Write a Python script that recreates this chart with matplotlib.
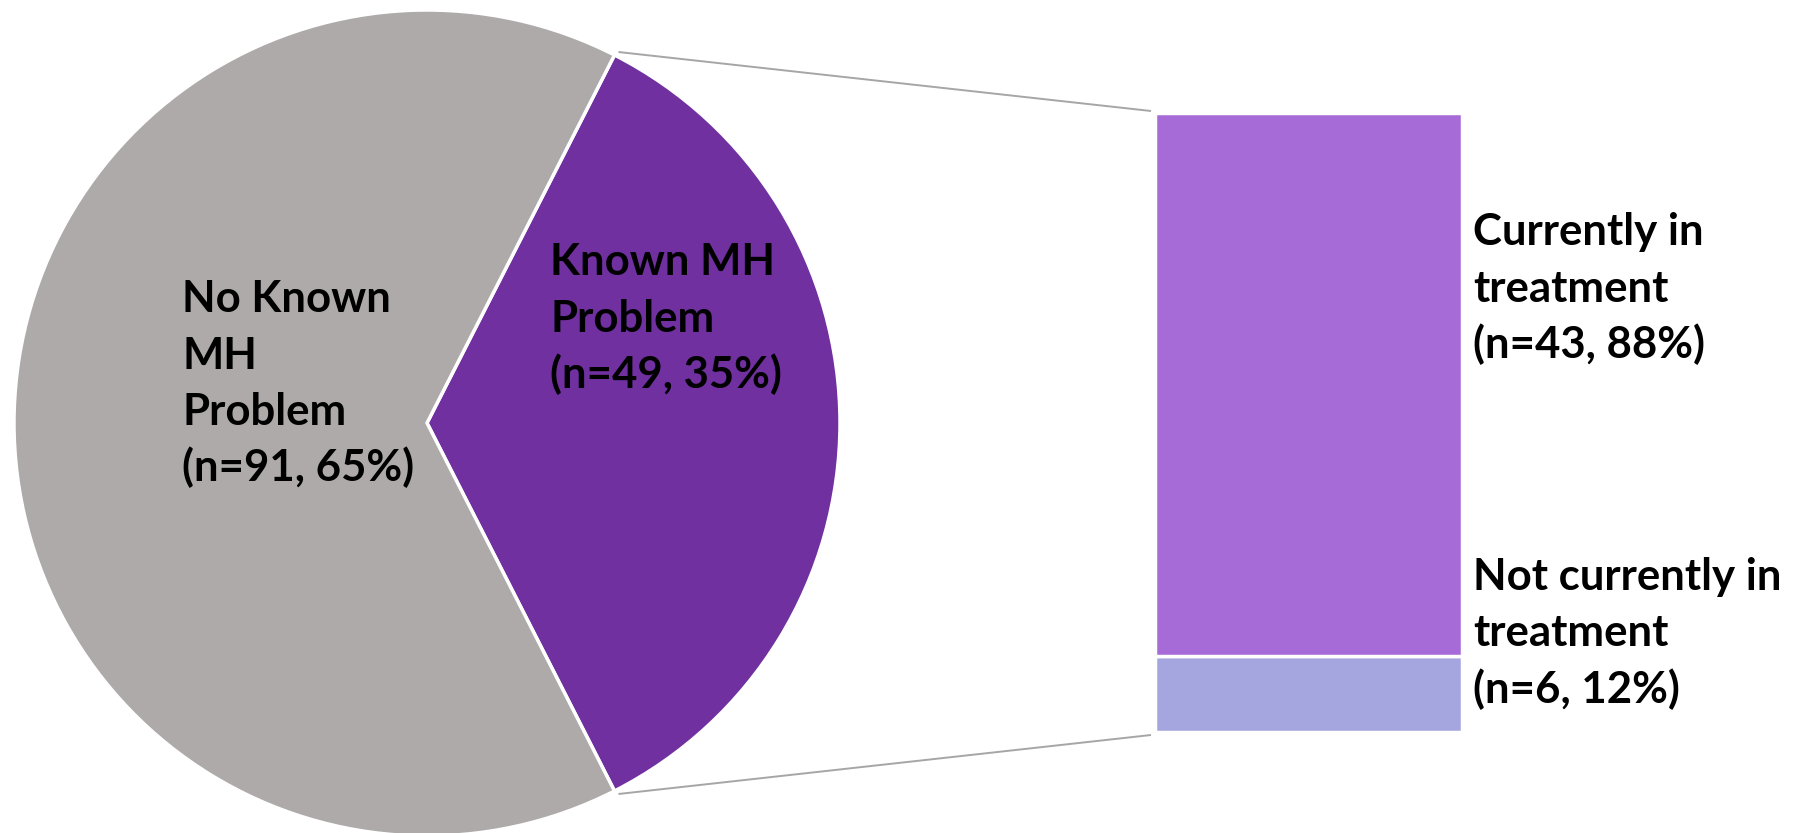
import numpy as np
import matplotlib
matplotlib.use("Agg")
import matplotlib.pyplot as plt

# ---- data ----
pie_labels = ["Known MH\nProblem\n(n=49, 35%)", "No Known\nMH\nProblem\n(n=91, 65%)"]
pie_values = [49, 91]
bar_labels = ["Not currently in\ntreatment\n(n=6, 12%)", "Currently in\ntreatment\n(n=43, 88%)"]
bar_values = [6, 43]

# ---- style ----
W, H = 1793, 833
pie_colors = ["#7030A0", "#AEAAAA"]
bar_colors = ["#A5A5E0", "#A76BD7"]
line_color = "#A6A6A6"
FONT = ["Lato", "DejaVu Sans"]
FS = 31.5

fig = plt.figure(figsize=(W / 100, H / 100), dpi=100)
ax = fig.add_axes([0, 0, 1, 1])

cx, cy, r = 427, H - 423, 413
frac = pie_values[0] / sum(pie_values)
start = -360 * frac / 2
ax.pie(pie_values, colors=pie_colors, startangle=start, counterclock=True,
       center=(cx, cy), radius=r,
       wedgeprops=dict(edgecolor="white", linewidth=2.5))
ax.set_xlim(0, W)
ax.set_ylim(0, H)
ax.set_aspect("auto")
ax.axis("off")

# bar axes
bx0, bx1, by_top, by_bot = 1155, 1462, 113, 732
bax = fig.add_axes([bx0 / W, (H - by_bot) / H, (bx1 - bx0) / W, (by_bot - by_top) / H])
bottom = 0
for v, c in zip(bar_values, bar_colors):
    bax.bar(0, v, bottom=bottom, width=1.0, color=c, edgecolor="white", linewidth=2.5)
    bottom += v
bax.set_xlim(-0.5, 0.5)
bax.set_ylim(0, sum(bar_values))
bax.axis("off")

# connector lines
a = np.deg2rad(start)
for sgn, by in [(1, by_top - 2), (-1, by_bot + 3)]:
    px = cx + r * np.cos(a) + 4
    py = cy - sgn * (r * np.sin(a) - 3)
    ax.plot([px, bx0 - 4], [py, H - by], color=line_color, lw=1.4,
            solid_capstyle="butt", zorder=0)

def put(text, x, y0, dy=56.5):
    for i, line in enumerate(text.split("\n")):
        ax.text(x, H - (y0 + i * dy), line, fontsize=FS, fontweight="bold",
                family=FONT, ha="left", va="baseline", color="black")

put(pie_labels[1], 182, 312)
put(pie_labels[0], 550, 275)
put(bar_labels[1], 1473, 245)
put(bar_labels[0], 1473, 590)

fig.savefig("out.png", dpi=100, facecolor="white")
